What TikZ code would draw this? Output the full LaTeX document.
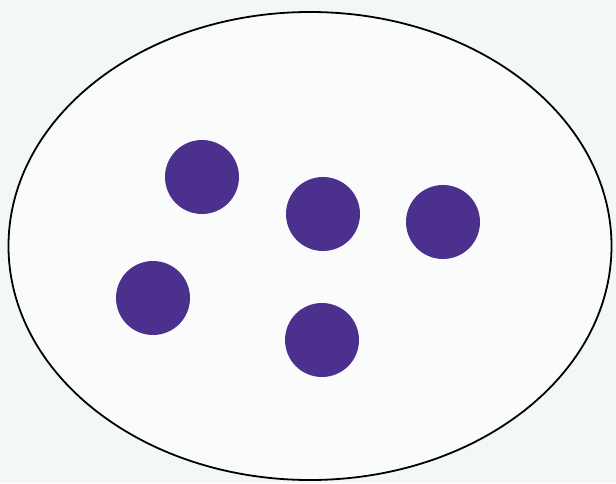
\documentclass[tikz,border=0pt]{standalone}
\usetikzlibrary{shapes.geometric}
\definecolor{bgpaper}{RGB}{244,247,248}
\definecolor{cellfill}{RGB}{250,252,252}
\definecolor{dotpurple}{RGB}{76,48,142}
\begin{document}
\begin{tikzpicture}[x=1pt,y=-1pt,
  dotstyle/.style={circle,fill=dotpurple,draw=none,minimum size=74pt,inner sep=0pt}]
\fill[bgpaper] (0,0) rectangle (616,483);
\useasboundingbox (0,0) rectangle (616,483);
\node[ellipse,draw=black,line width=1.8pt,fill=cellfill,minimum width=603pt,minimum height=468pt,inner sep=0pt] (cell) at (310,246) {};
\node[dotstyle] (d1) at (202,177) {};
\node[dotstyle] (d2) at (323,214) {};
\node[dotstyle] (d3) at (443,222) {};
\node[dotstyle] (d4) at (153,298) {};
\node[dotstyle] (d5) at (322,340) {};
\end{tikzpicture}
\end{document}
